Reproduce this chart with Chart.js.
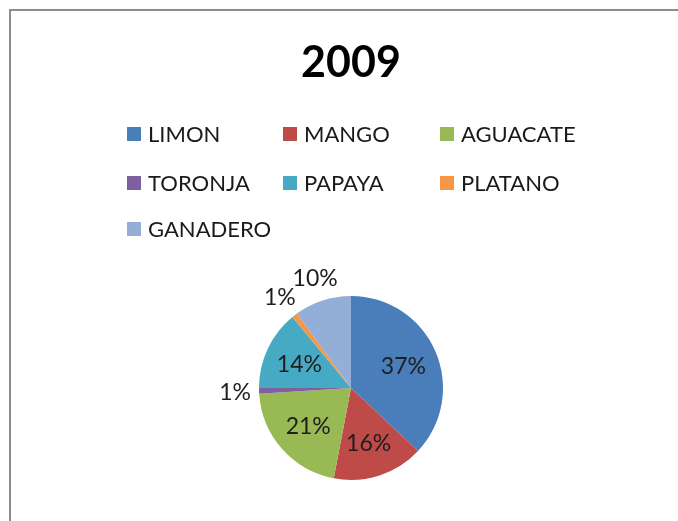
<!DOCTYPE html>
<html>
<head>
<meta charset="utf-8">
<script src="https://cdn.jsdelivr.net/npm/chart.js@4"></script>
<style>
  html, body { margin: 0; padding: 0; background: #fff; }
  body { width: 678px; height: 521px; position: relative; overflow: hidden; }
  .frame {
    position: absolute; left: 9px; top: 9px; right: -4px; bottom: -4px;
    border-left: 2px solid #8c8c8c; border-top: 2px solid #8c8c8c;
  }
  #pie-chart { position: absolute; left: 0; top: 0; }
</style>
</head>
<body>
<div class="frame"></div>
<canvas id="pie-chart" width="678" height="521"></canvas>
<script>
  const title = '2009';
  const labels = ['LIMON', 'MANGO', 'AGUACATE', 'TORONJA', 'PAPAYA', 'PLATANO', 'GANADERO'];
  const shares = [37, 16, 21, 1, 14, 1, 10];
  const colors = ['#4a7ebb', '#be4b48', '#98b954', '#7d60a0', '#46aac5', '#f79646', '#93aed7'];

  const font = 'Lato, "Open Sans", sans-serif';

  // title + three-column legend above the pie
  const headerPlugin = {
    id: 'header',
    afterDraw: chart => {
      const ctx = chart.ctx;
      ctx.save();
      ctx.fillStyle = '#000';
      ctx.textAlign = 'center';
      ctx.textBaseline = 'alphabetic';
      ctx.font = 'bold 43px ' + font;
      ctx.fillText(title, 351, 77);

      const colX = [127, 283, 440];
      const rowY = [134, 183, 229];
      ctx.font = '22px ' + font;
      ctx.textAlign = 'left';
      ctx.textBaseline = 'middle';
      chart.data.labels.forEach((label, i) => {
        const x = colX[i % 3];
        const y = rowY[Math.floor(i / 3)];
        ctx.fillStyle = chart.data.datasets[0].backgroundColor[i];
        ctx.fillRect(x, y - 7, 14, 14);
        ctx.fillStyle = '#1a1a1a';
        ctx.fillText(label, x + 21, y + 1);
      });
      ctx.restore();
    }
  };

  // percentage labels, small slices go outside the pie
  const sliceLabels = {
    id: 'sliceLabels',
    afterDatasetsDraw: chart => {
      const ctx = chart.ctx;
      const data = chart.data.datasets[0].data;
      const total = data.reduce((a, b) => a + b, 0);
      ctx.save();
      ctx.font = '23px ' + font;
      ctx.fillStyle = '#1e1e1e';
      ctx.textAlign = 'center';
      ctx.textBaseline = 'middle';
      chart.getDatasetMeta(0).data.forEach((arc, i) => {
        const p = arc.getProps(['x', 'y', 'startAngle', 'endAngle', 'outerRadius'], true);
        const mid = (p.startAngle + p.endAngle) / 2;
        const pct = Math.round(data[i] / total * 100);
        const dist = pct <= 10 ? p.outerRadius + 24 : p.outerRadius * 0.62;
        ctx.fillText(pct + '%', p.x + Math.cos(mid) * dist, p.y + Math.sin(mid) * dist + 1);
      });
      ctx.restore();
    }
  };

  new Chart(document.getElementById('pie-chart'), {
    type: 'pie',
    data: {
      labels: labels,
      datasets: [{
        data: shares,
        backgroundColor: colors,
        borderWidth: 0
      }]
    },
    options: {
      responsive: false,
      animation: false,
      layout: { padding: { left: 259, right: 235, top: 296, bottom: 41 } },
      plugins: {
        legend: { display: false },
        tooltip: { enabled: false }
      }
    },
    plugins: [headerPlugin, sliceLabels]
  });
</script>
</body>
</html>
